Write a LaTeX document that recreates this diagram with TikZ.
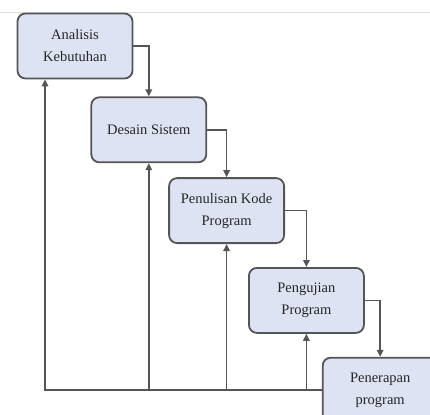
\documentclass[tikz,border=0pt]{standalone}
\usepackage{fontspec}
\setmainfont{Liberation Serif}
\usetikzlibrary{arrows.meta, positioning}
\definecolor{boxfill}{RGB}{222,227,244}
\definecolor{garis}{RGB}{85,85,85}

\begin{document}
\begin{tikzpicture}[
    x=1pt, y=-1pt,
    box/.style={rectangle, draw=garis, line width=1.8pt, rounded corners=8pt,
                minimum width=115pt, minimum height=65pt, align=center,
                fill=boxfill, text=black!85, font=\fontsize{14.5}{22}\selectfont},
    arr/.style={-{Triangle[length=7pt, width=6.5pt]}, line width=1.6pt, draw=garis}
]
\useasboundingbox (0,0) rectangle (430,414);
\clip (0,0) rectangle (430,414);
\draw[black!12, line width=0.8pt] (0,12) -- (430,12);

\node[box] (ana) at (75,46) {Analisis\\Kebutuhan};
\node[box, below right=17pt and -43pt of ana] (des) {Desain Sistem};
\node[box, below right=14pt and -39pt of des] (kode) {Penulisan Kode\\Program};
\node[box, below right=23pt and -37pt of kode] (uji) {Pengujian\\Program};
\node[box, below right=23pt and -43pt of uji] (fin) {Penerapan\\program};

% alur ke bawah
\draw[arr] (ana.east) -| (des.north);
\draw[arr] (des.east) -| (kode.north);
\draw[arr] (kode.east) -| (uji.north);
\draw[arr] (uji.east) -| (fin.north);

% umpan balik
\draw[arr] (fin.west) -| ([xshift=-30pt]ana.south);
\draw[arr] (des.south |- fin.west) -- (des.south);
\draw[arr] (kode.south |- fin.west) -- (kode.south);
\draw[arr] (uji.south |- fin.west) -- (uji.south);
\end{tikzpicture}
\end{document}
